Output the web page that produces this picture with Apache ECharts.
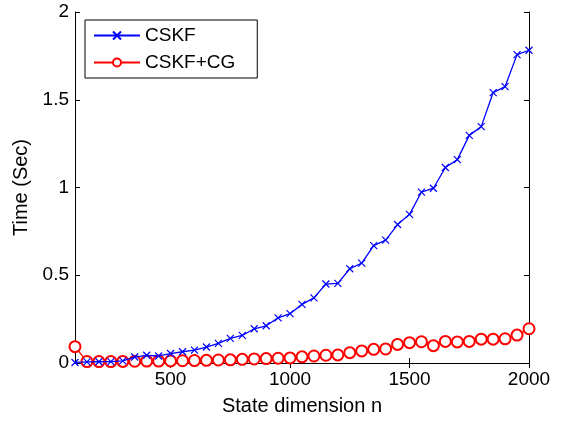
<!DOCTYPE html>
<html>
<head>
<meta charset="utf-8">
<script src="https://cdn.jsdelivr.net/npm/echarts@6/dist/echarts.min.js"></script>
<style>
html,body{margin:0;padding:0;background:#fff;}
#chart{width:562px;height:421px;}
</style>
</head>
<body>
<div id="chart"></div>
<script>
// state dimension n
var dims = [100,150,200,250,300,350,400,450,500,550,600,650,700,750,800,850,900,950,1000,
  1050,1100,1150,1200,1250,1300,1350,1400,1450,1500,1550,1600,1650,1700,1750,1800,1850,1900,1950,2000];
// time in seconds
var cskf = [0.003,0.006,0.007,0.008,0.012,0.034,0.044,0.040,0.054,0.064,0.073,0.091,0.112,0.140,0.157,0.195,0.212,0.257,0.281,
  0.334,0.371,0.450,0.454,0.537,0.569,0.669,0.700,0.789,0.847,0.974,0.996,1.114,1.159,1.297,1.347,1.541,1.575,1.757,1.782];
var cskfCg = [0.093,0.008,0.008,0.008,0.009,0.010,0.011,0.011,0.012,0.013,0.014,0.015,0.017,0.018,0.021,0.023,0.025,0.027,0.029,
  0.035,0.040,0.044,0.046,0.059,0.069,0.078,0.080,0.106,0.116,0.121,0.099,0.123,0.120,0.123,0.136,0.136,0.138,0.159,0.195];
var xTicks = [500,1000,1500,2000];

function pairs(ys){
  var out = [];
  for (var i = 0; i < dims.length; i++) out.push([dims[i], ys[i]]);
  return out;
}

var font = 'Liberation Sans, Arial, Helvetica, sans-serif';
var myChart = echarts.init(document.getElementById('chart'));

var option = {
  animation: false,
  backgroundColor: '#fff',
  textStyle: {fontFamily: font},
  grid: {left: 75, right: 33, top: 12, bottom: 55},
  legend: {
    orient: 'vertical',
    left: 85, top: 20,
    backgroundColor: '#fff',
    borderColor: '#000', borderWidth: 1,
    borderRadius: 0,
    padding: [6, 22, 6, 8],
    itemWidth: 46, itemHeight: 10,
    itemGap: 8,
    textStyle: {fontSize: 19, color: '#000', fontFamily: font},
    data: ['CSKF', 'CSKF+CG']
  },
  xAxis: [{
    type: 'value', min: 100, max: 2000,
    name: 'State dimension n', nameLocation: 'middle', nameGap: 33,
    nameTextStyle: {fontSize: 20, color: '#000'},
    axisLine: {lineStyle: {color: '#000', width: 1}},
    axisTick: {inside: true, length: 5, customValues: xTicks, lineStyle: {color: '#000'}},
    axisLabel: {customValues: xTicks, fontSize: 19, color: '#000', margin: 7,
      formatter: function (v) { return String(v); }},
    splitLine: {show: false}
  }, {
    type: 'value', min: 100, max: 2000, position: 'top',
    axisLine: {lineStyle: {color: '#000', width: 1}},
    axisTick: {inside: true, length: 5, customValues: xTicks, lineStyle: {color: '#000'}},
    axisLabel: {show: false},
    splitLine: {show: false}
  }],
  yAxis: [{
    type: 'value', min: 0, max: 2, interval: 0.5,
    name: 'Time (Sec)', nameLocation: 'middle', nameGap: 42,
    nameTextStyle: {fontSize: 20, color: '#000'},
    axisLine: {show: true, lineStyle: {color: '#000', width: 1}},
    axisTick: {show: true, inside: true, length: 5, lineStyle: {color: '#000'}},
    axisLabel: {fontSize: 19, color: '#000', margin: 6},
    splitLine: {show: false}
  }, {
    type: 'value', min: 0, max: 2, interval: 0.5, position: 'right',
    axisLine: {show: true, lineStyle: {color: '#000', width: 1}},
    axisTick: {show: true, inside: true, length: 5, lineStyle: {color: '#000'}},
    axisLabel: {show: false},
    splitLine: {show: false}
  }],
  series: [{
    name: 'CSKF', type: 'line',
    data: pairs(cskf),
    symbol: 'path://M0,0L10,10M10,0L0,10',
    symbolSize: 7,
    lineStyle: {color: '#0000ff', width: 1.3},
    itemStyle: {color: '#0000ff', borderColor: '#0000ff', borderWidth: 1.2},
    z: 3
  }, {
    name: 'CSKF+CG', type: 'line',
    data: pairs(cskfCg),
    symbol: 'emptyCircle',
    symbolSize: 11,
    lineStyle: {color: '#ff0000', width: 1.3},
    itemStyle: {color: '#ff0000', borderColor: '#ff0000', borderWidth: 1.2},
    z: 2
  }]
};

myChart.setOption(option);
</script>
</body>
</html>
